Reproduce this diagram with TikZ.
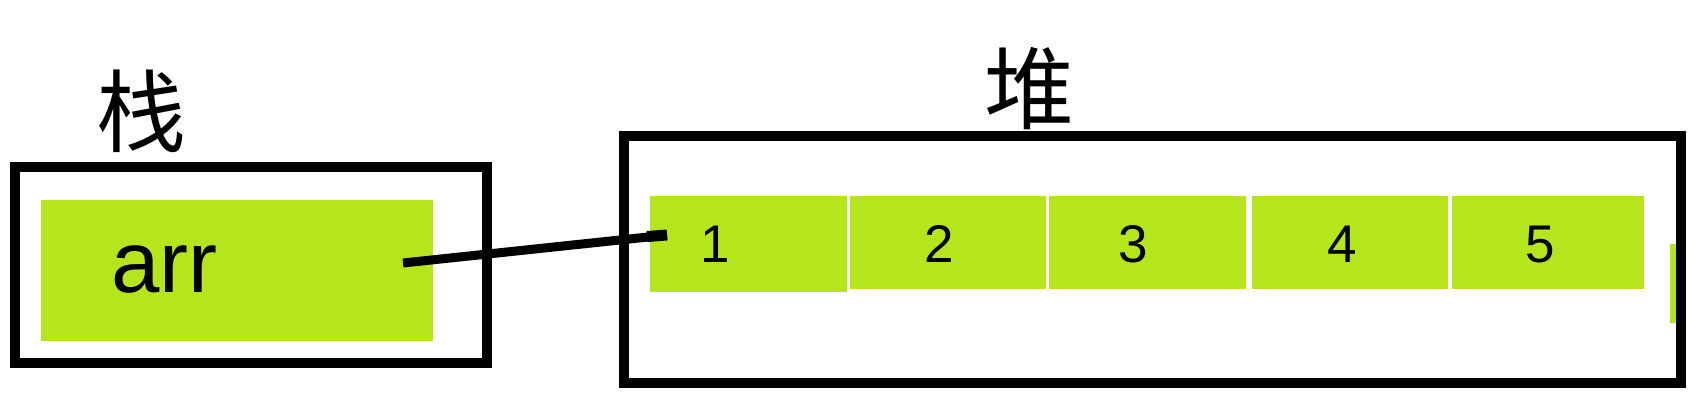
\documentclass[tikz,border=0pt]{standalone}
\usepackage{fontspec}
\setmainfont{Liberation Sans}
\newfontfamily\cjk{Noto Sans CJK SC}
\usepackage{tikz}
\definecolor{paintlime}{RGB}{181,230,29}

\begin{document}
\begin{tikzpicture}[
      x=1pt, y=-1pt,
      line join=miter,
      every node/.style={inner sep=0pt, outer sep=0pt},
      frame/.style={draw=black, line width=10.5pt, minimum width=#1},
      slot/.style={fill=paintlime, minimum height=#1},
      title/.style={font=\cjk\fontsize{90}{90}\selectfont},
      digit/.style={anchor=base, font=\fontsize{53}{53}\selectfont},
    ]
    \useasboundingbox (0,0) rectangle (1703,420);
    %% Heap cells first, so the frame lies on top of the cut-off sixth cell.
    \foreach \n/\cx/\w/\h/\dx in {%
        1/748.5/197/96/715, 2/948/196/93/939, 3/1147.5/197/93/1133,
        4/1350/196/93/1342, 5/1548/192/93/1540}{
      \node[slot=\h, minimum width=\w, anchor=north] (cell\n) at (\cx,196) {};
      \node[digit] (num\n) at (\dx,262) {\n};
    }
    \node[slot=79, minimum width=10, anchor=north] (cell6) at (1675,244) {};
    %% Frames: stack on the left, heap on the right.
    \node[frame=472, minimum height=196] (stack) at (251,265) {};
    \node[frame=1057, minimum height=247] (heap) at (1152.5,259.5) {};
    %% The variable in the stack.
    \node[slot=141, minimum width=392] (var) at (237,270.5) {};
    \node[anchor=base west, font=\fontsize{87}{87}\selectfont] (arrname)
      at (111,292) {arr};
    %% Labels over the frames.
    \node[title] (stacklabel) at (141,111) {栈};
    \node[title] (heaplabel) at (1029,89) {堆};
    %% Reference from arr to the first cell; the end in the cell is heavier.
    \coordinate (ptr) at (403,263);
    \coordinate (tip) at (667,235);
    \draw[line width=9pt] (ptr) -- (tip);
    \draw[line width=11pt] (tip) -- ++(-20,1.5);
  \end{tikzpicture}
\end{document}
